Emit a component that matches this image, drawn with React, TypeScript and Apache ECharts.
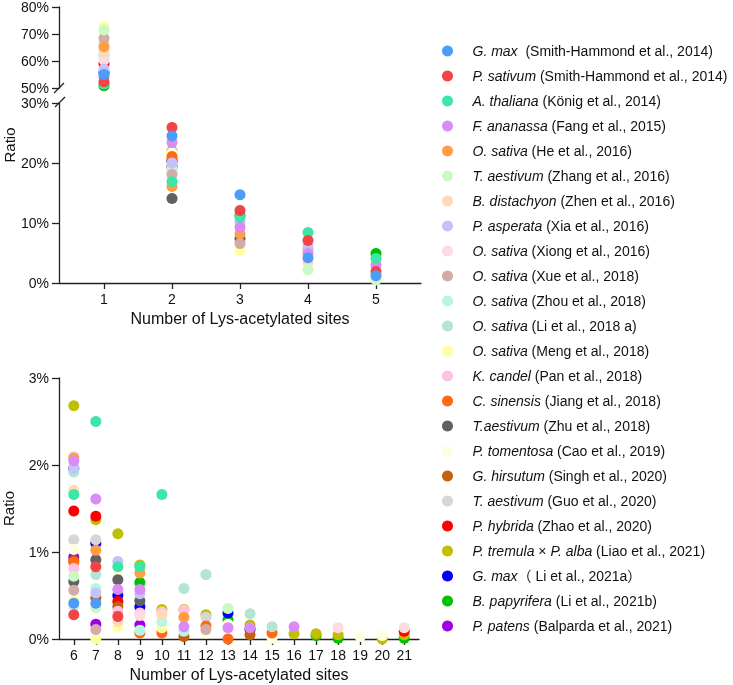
import React, { useEffect, useRef } from "react";
import * as echarts from "echarts";

const _ = null;

// x tick labels
const topSites = [1, 2, 3, 4, 5];
const bottomSites = [6, 7, 8, 9, 10, 11, 12, 13, 14, 15, 16, 17, 18, 19, 20, 21];
const sites = [...topSites, ...bottomSites];

// legend text
const species = [
  "G. max", "P. sativum", "A. thaliana", "F. ananassa", "O. sativa", "T. aestivum",
  "B. distachyon", "P. asperata", "O. sativa", "O. sativa", "O. sativa", "O. sativa",
  "O. sativa", "K. candel", "C. sinensis", "T.aestivum", "P. tomentosa", "G. hirsutum",
  "T. aestivum", "P. hybrida", "P. tremula × P. alba", "G. max", "B. papyrifera", "P. patens",
];
const refs = [
  "  (Smith-Hammond et al., 2014)", " (Smith-Hammond et al., 2014)", " (König et al., 2014)",
  " (Fang et al., 2015)", " (He et al., 2016)", " (Zhang et al., 2016)", " (Zhen et al., 2016)",
  " (Xia et al., 2016)", " (Xiong et al., 2016)", " (Xue et al., 2018)", " (Zhou et al., 2018)",
  " (Li et al., 2018 a)", " (Meng et al., 2018)", " (Pan et al., 2018)", " (Jiang et al., 2018)",
  " (Zhu et al., 2018)", " (Cao et al., 2019)", " (Singh et al., 2020)", " (Guo et al., 2020)",
  " (Zhao et al., 2020)", " (Liao et al., 2021)", "（ Li et al., 2021a）", " (Li et al., 2021b)",
  " (Balparda et al., 2021)",
];
const colors = [
  "#4D9DF8", "#F24444", "#3DE6A6", "#DB8BF5", "#FF9E42", "#CAF9C3", "#FFDAB8", "#C3C3FA",
  "#FCDCDE", "#D4ABA8", "#B8F5E2", "#B4E4D2", "#FFFFA0", "#FFC2E2", "#FF6A12", "#616161",
  "#FFFFE0", "#C4600E", "#D6D6D6", "#FF0000", "#C2BE00", "#0000FF", "#00C000", "#A000E0",
];

// ratio (%) for sites 1..21
const gMaxSmith =    [55.0, 24.5, 14.7, 4.2, 1.2, 0.41, 0.41, _, _, _, _, _, _, _, _, _, _, _, _, _, _];
const pSativum =     [52.3, 25.9, 12.1, 7.1, 1.9, 0.28, 0.83, 0.26, _, _, _, _, _, _, _, _, _, _, _, _, _];
const aThaliana =    [51.5, 16.9, 11.0, 8.4, 4.1, 1.66, 2.5, 0.83, 0.83, 1.66, _, _, _, _, _, _, _, _, _, _, _];
const fAnanassa =    [54.0, 23.4, 9.3, 4.9, 3.0, 2.05, 1.61, 0.57, 0.57, _, 0.14, _, 0.13, 0.13, _, 0.14, _, _, _, _, _];
const oSativaHe =    [65.3, 16.1, 8.2, _, _, 2.08, 1.02, _, 0.76, _, 0.25, _, _, _, _, _, _, _, _, _, _];
const tAestZhang =   [71.5, _, _, 2.2, 0.5, 0.72, 0.36, _, _, _, _, _, 0.35, _, _, _, _, _, _, _, _];
const bDistachyon =  [63.5, _, _, 3.4, _, 1.71, _, 0.2, _, 0.28, _, _, _, _, _, _, _, _, _, _, _];
const pAsperata =    [57.0, 20.0, 10.2, 6.0, _, 1.96, 0.53, 0.89, 0.52, _, _, _, _, _, _, _, _, _, _, _, _];
const oSativaXiong = [60.4, _, _, _, _, 2.1, _, _, 0.27, _, _, _, _, _, _, _, _, 0.13, _, _, 0.13];
const oSativaXue =   [68.4, 18.1, 6.6, _, _, 0.56, 0.11, _, _, _, _, 0.11, _, _, _, _, _, _, _, _, _];
const oSativaZhou =  [66.8, 19.1, _, _, _, 0.38, 0.58, _, 0.1, 0.2, 0.09, _, _, _, _, _, _, _, _, _, _];
const oSativaLi =    [62.3, 18.6, _, _, _, 1.92, 0.74, _, _, _, 0.58, 0.74, _, 0.29, 0.14, _, _, _, _, _, _];
const oSativaMeng =  [72.7, _, 5.4, _, _, 0.44, 0.0, 0.14, _, 0.13, _, _, _, _, _, _, _, _, _, _, _];
const kCandel =      [_, _, _, _, _, 0.81, _, 0.32, 0.3, 0.31, 0.33, _, _, _, _, _, _, _, _, _, _];
const cSinensis =    [_, 21.1, _, _, _, 0.88, _, _, 0.07, 0.07, _, 0.15, 0.0, _, 0.07, _, _, _, _, _, _];
const tAestZhu =     [_, 14.1, 7.4, _, _, 0.66, 0.91, 0.68, 0.44, _, _, _, _, _, _, _, _, _, _, _, _];
const pTomentosa =   [_, 21.7, _, _, _, 1.03, _, 0.76, _, _, _, 0.07, 0.17, _, 0.01, _, _, _, 0.03, 0.04, _];
const gHirsutum =    [_, 20.6, _, _, _, 0.9, 0.47, 0.37, _, _, 0.03, _, _, 0.05, _, _, _, _, _, _, _];
const tAestGuo =     [_, _, _, _, _, 1.14, 1.14, _, _, _, _, 0.25, _, _, _, _, _, _, _, _, _];
const pHybrida =     [59.0, 19.4, _, _, _, 1.47, 1.41, 0.43, _, _, _, _, _, _, _, _, _, _, _, _, 0.09];
const pTremula =     [_, 22.0, _, 5.5, _, 2.68, 1.37, 1.21, 0.85, 0.34, 0.34, 0.28, _, 0.16, _, 0.06, 0.06, 0.05, _, 0.0, 0.05];
const gMaxLi =       [55.7, 20.3, _, _, _, 1.96, 1.1, 0.5, 0.37, _, _, _, 0.3, 0.11, _, _, _, _, _, _, _];
const bPapyrifera =  [50.8, _, 11.3, _, 4.9, _, _, _, 0.65, _, _, _, 0.22, _, _, _, 0.04, 0.01, _, _, 0.01];
const pPatens =      [_, _, _, _, _, 0.94, 0.17, _, 0.16, _, _, _, _, _, _, _, _, _, _, _, _];

const values = [
  gMaxSmith, pSativum, aThaliana, fAnanassa, oSativaHe, tAestZhang, bDistachyon, pAsperata,
  oSativaXiong, oSativaXue, oSativaZhou, oSativaLi, oSativaMeng, kCandel, cSinensis, tAestZhu,
  pTomentosa, gHirsutum, tAestGuo, pHybrida, pTremula, gMaxLi, bPapyrifera, pPatens,
];

const FONT = "'Liberation Sans', Arial, 'Noto Sans CJK SC', sans-serif";
const names = species.map((s, i) => s + refs[i]);

export default function App() {
  const ref = useRef<HTMLDivElement>(null);
  useEffect(() => {
    if (!ref.current) return;
    const chart = echarts.init(ref.current, undefined, { renderer: "svg" });
    const axisLine = { show: true, lineStyle: { color: "#222", width: 1.3 } };
    const label = { color: "#111", fontSize: 14, fontFamily: FONT };

    const yAxisBase = (min: number, max: number, interval: number, gi: number) => ({
      type: "value", gridIndex: gi, min, max, interval,
      axisLine, splitLine: { show: false },
      axisTick: { show: true, length: 7, lineStyle: { color: "#222", width: 1.3 } },
      axisLabel: { ...label, margin: 10, formatter: "{value}%" },
    });
    const xAxisBase = (min: number, max: number, ticks: number[], gi: number, show: boolean) => ({
      type: "value", gridIndex: gi, min, max, show,
      axisLine, splitLine: { show: false },
      axisTick: { show: true, length: 6, customValues: ticks, lineStyle: { color: "#222", width: 1.3 } },
      axisLabel: { ...label, margin: 9, customValues: ticks },
      name: show ? "Number of Lys-acetylated sites" : "",
      nameLocation: "middle", nameGap: 27,
      nameTextStyle: { color: "#111", fontSize: 16, fontFamily: FONT },
    });

    const series: any[] = [];
    for (let k = values.length - 1; k >= 0; k--) {
      const v = values[k];
      const base = {
        type: "scatter", name: names[k], symbol: "circle", symbolSize: 11, clip: false,
        itemStyle: { color: colors[k], opacity: 1 }, emphasis: { disabled: true },
      };
      const pts = (from: number, to: number) =>
        sites.slice(from, to).map((s, j) => [s, v[from + j]]).filter((p) => p[1] !== null);
      series.push({ ...base, xAxisIndex: 0, yAxisIndex: 0, data: pts(0, 1) });
      series.push({ ...base, xAxisIndex: 1, yAxisIndex: 1, data: pts(1, 5) });
      series.push({ ...base, xAxisIndex: 2, yAxisIndex: 2, data: pts(5, 21) });
    }

    const topMin = 1 - 45 / 68, topMax = 5 + 45 / 68;
    const botMin = 6 - 15 / 22.333, botMax = 21 + 15 / 22.333;

    chart.setOption({
      animation: false,
      grid: [
        { left: 59, top: 7, width: 362, height: 81 },
        { left: 59, top: 103, width: 362, height: 180 },
        { left: 54, top: 378, width: 365, height: 261 },
      ],
      xAxis: [
        xAxisBase(topMin, topMax, topSites, 0, false),
        xAxisBase(topMin, topMax, topSites, 1, true),
        xAxisBase(botMin, botMax, bottomSites, 2, true),
      ],
      yAxis: [
        yAxisBase(50, 80, 10, 0),
        yAxisBase(0, 30, 10, 1),
        {
          ...yAxisBase(0, 3, 1, 2), name: "Ratio", nameLocation: "middle", nameGap: 43,
          nameTextStyle: { color: "#111", fontSize: 15, fontFamily: FONT },
        },
      ],
      legend: {
        orient: "vertical", left: 442, top: 43, padding: 0, itemGap: 9,
        itemWidth: 40, itemHeight: 11, icon: "circle", selectedMode: false,
        data: names,
        formatter: (name: string) => {
          const i = names.indexOf(name);
          const sp = species[i].split(" × ").map((p) => `{i|${p}}`).join("{n| × }");
          return `${sp}{n|${refs[i]}}`;
        },
        textStyle: {
          color: "#111", fontSize: 14, fontFamily: FONT, lineHeight: 16,
          rich: {
            i: { fontStyle: "italic", fontSize: 14, fontFamily: FONT, color: "#111", lineHeight: 16 },
            n: { fontSize: 14, fontFamily: FONT, color: "#111", lineHeight: 16 },
          },
        },
      },
      graphic: [
        {
          type: "text", x: 9, y: 145, rotation: Math.PI / 2,
          style: { text: "Ratio", fill: "#111", font: `15px ${FONT}`, align: "center", verticalAlign: "middle" },
        },
        { type: "line", shape: { x1: 54, y1: 93, x2: 64, y2: 83 }, style: { stroke: "#222", lineWidth: 1.3 } },
        { type: "line", shape: { x1: 55, y1: 107, x2: 65, y2: 97 }, style: { stroke: "#222", lineWidth: 1.3 } },
      ],
      series,
    });
    return () => chart.dispose();
  }, []);
  return <div ref={ref} style={{ position: "fixed", left: 0, top: 0, width: 733, height: 685 }} />;
}
